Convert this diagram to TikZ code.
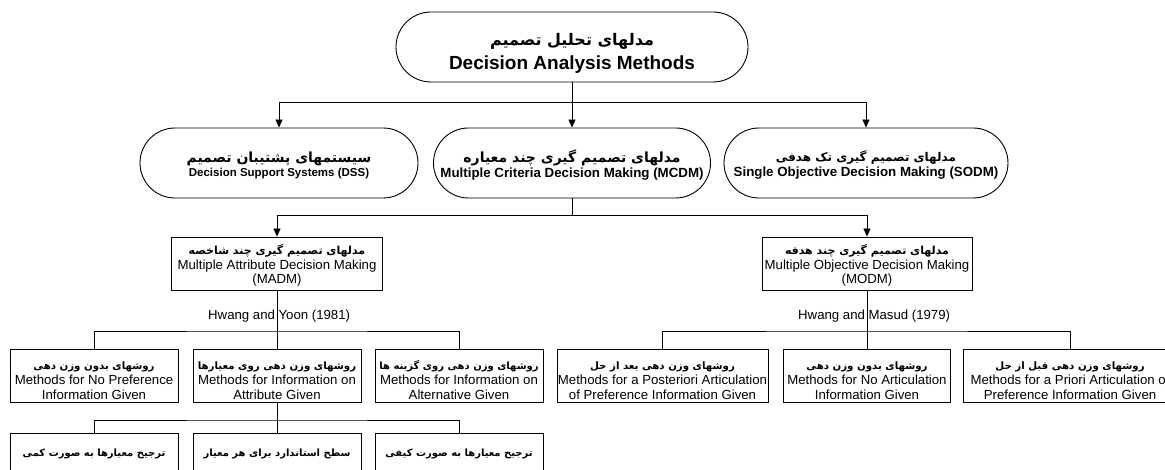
\documentclass[tikz,border=0pt]{standalone}
\usepackage{fontspec}
\setmainfont{Liberation Sans}
\newfontfamily\fa[Script=Arabic]{DejaVu Sans}
\TeXXeTstate=1
\usetikzlibrary{arrows.meta}
\newcommand{\fat}[2]{{\fa\bfseries\fontsize{#1pt}{#1pt}\selectfont #2}}
\newcommand{\upsp}[1]{\rule{0pt}{#1pt}}
\begin{document}
\begin{tikzpicture}[x=1pt,y=-1pt,
  stad/.style={draw, line width=0.9pt, rounded corners=35pt, minimum height=70pt, align=center, inner sep=0pt},
  rbox/.style={draw, line width=0.9pt, align=center, inner sep=0pt},
  conn/.style={line width=0.9pt},
  arr/.style={conn, -{Triangle[width=7pt,length=8pt]}},
  bigb/.style={font=\bfseries\fontsize{19pt}{24pt}\selectfont},
  medb/.style={font=\bfseries\fontsize{13.3pt}{15pt}\selectfont},
  smlb/.style={font=\bfseries\fontsize{11.5pt}{14pt}\selectfont},
  reg/.style={font=\fontsize{13.2pt}{14.8pt}\selectfont}]
\useasboundingbox (0,0) rectangle (1165,470);
\clip (0,0) rectangle (1165,470);
% level 1
\node[stad, bigb, minimum width=352pt] (top) at (572,47)
  {\upsp{25}\fat{16}{\beginR مدلهای تحلیل تصمیم\endR}\\Decision Analysis Methods};
% level 2
\node[stad, smlb, minimum width=278pt] (dss) at (279,163)
  {\upsp{16}\fat{14}{\beginR سیستمهای پشتیبان تصمیم\endR}\\Decision Support Systems (DSS)};
\node[stad, medb, minimum width=277pt] (mcdm) at (572,163)
  {\upsp{16}\fat{14}{\beginR مدلهای تصمیم گیری چند معیاره\endR}\\Multiple Criteria Decision Making (MCDM)};
\node[stad, medb, minimum width=284pt] (sodm) at (866,163)
  {\upsp{14}\fat{12}{\beginR مدلهای تصمیم گیری تک هدفی\endR}\\Single Objective Decision Making (SODM)};
% level 3
\node[rbox, reg, minimum width=211pt, minimum height=53pt] (madm) at (277,263.5)
  {\upsp{14}\fat{11}{\beginR مدلهای تصمیم گیری چند شاخصه\endR}\\Multiple Attribute Decision Making\\(MADM)};
\node[rbox, reg, minimum width=210pt, minimum height=53pt] (modm) at (867,263.5)
  {\upsp{14}\fat{11}{\beginR مدلهای تصمیم گیری چند هدفه\endR}\\Multiple Objective Decision Making\\(MODM)};
\node[reg, anchor=west, inner sep=0pt] (hy) at (208,316) {Hwang and Yoon (1981)};
\node[reg, anchor=west, inner sep=0pt] (hm) at (798,316) {Hwang and Masud (1979)};
% level 4
\node[rbox, reg, minimum width=168pt, minimum height=53pt] (a1) at (94,375.5)
  {\upsp{18}\fat{10.2}{\beginR روشهای بدون وزن دهی\endR}\\Methods for No Preference\\Information Given};
\node[rbox, reg, minimum width=168pt, minimum height=53pt] (a2) at (277,375.5)
  {\upsp{18}\fat{10.2}{\beginR روشهای وزن دهی روی معیارها\endR}\\Methods for Information on\\Attribute Given};
\node[rbox, reg, minimum width=168pt, minimum height=53pt] (a3) at (459,375.5)
  {\upsp{18}\fat{10}{\beginR روشهای وزن دهی روی گزینه ها\endR}\\Methods for Information on\\Alternative Given};
\node[rbox, reg, minimum width=211pt, minimum height=53pt] (b1) at (662.5,375.5)
  {\upsp{18}\fat{10.2}{\beginR روشهای وزن دهی بعد از حل\endR}\\Methods for a Posteriori Articulation\\of Preference Information Given};
\node[rbox, reg, minimum width=167pt, minimum height=53pt] (b2) at (867,375.5)
  {\upsp{18}\fat{10.2}{\beginR روشهای بدون وزن دهی\endR}\\Methods for No Articulation\\Information Given};
\node[rbox, reg, minimum width=213pt, minimum height=53pt] (b3) at (1070,375.5)
  {\upsp{18}\fat{10.2}{\beginR روشهای وزن دهی قبل از حل\endR}\\Methods for a Priori Articulation of\\Preference Information Given};
% level 5
\node[rbox, reg, minimum width=168pt, minimum height=42pt] (c1) at (94,454)
  {\fat{10}{\beginR ترجیح معیارها به صورت کمی\endR}};
\node[rbox, reg, minimum width=168pt, minimum height=42pt] (c2) at (277,454)
  {\fat{10}{\beginR سطح استاندارد برای هر معیار\endR}};
\node[rbox, reg, minimum width=168pt, minimum height=42pt] (c3) at (459,454)
  {\fat{10}{\beginR ترجیح معیارها به صورت کیفی\endR}};
% connectors
\coordinate (j1) at (572,102);
\coordinate (j2) at (572,215);
\coordinate (j3) at (277,331);
\coordinate (k3) at (867,331);
\coordinate (j4) at (277,420);
\draw[conn] (top.south) -- (j1);
\draw[arr] (j1) -| (dss.north);
\draw[arr] (j1) -- (mcdm.north);
\draw[arr] (j1) -| (sodm.north);
\draw[conn] (mcdm.south) -- (j2);
\draw[arr] (j2) -| (madm.north);
\draw[arr] (j2) -| (modm.north);
\draw[conn] (madm.south) -- (a2.north);
\draw[conn] (a1.north) |- (j3) -| (a3.north);
\draw[conn] (modm.south) -- (b2.north);
\draw[conn] (b1.north) |- (k3) -| (b3.north);
\draw[conn] (a2.south) -- (c2.north);
\draw[conn] (c1.north) |- (j4) -| (c3.north);
\end{tikzpicture}
\end{document}
